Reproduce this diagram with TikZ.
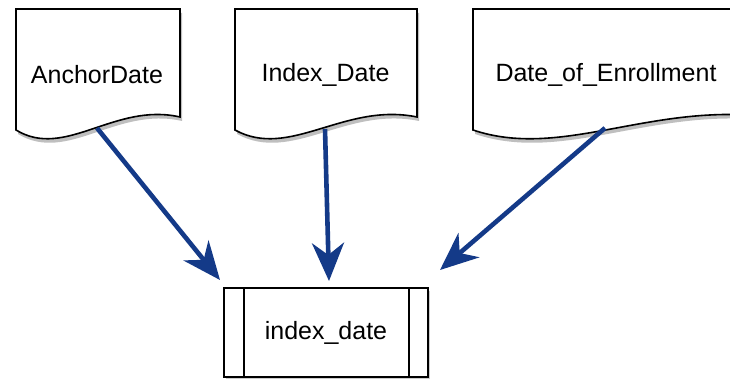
\documentclass[tikz,border=0pt]{standalone}
\usepackage{fontspec}
\setmainfont{Liberation Sans}
\usetikzlibrary{arrows.meta,shadows}
\definecolor{flowblue}{HTML}{143A88}
\tikzset{
  docshape/.style={draw=black, line width=1.6pt, fill=white,
    drop shadow={shadow xshift=2pt, shadow yshift=-4pt, opacity=0.25, fill=black}},
  label/.style={font=\fontsize{25}{29}\selectfont, text=black, inner sep=0pt},
  procbox/.style={draw=black, line width=1.6pt, fill=white, minimum width=204pt,
    minimum height=89pt, inner sep=0pt,
    drop shadow={shadow xshift=2pt, shadow yshift=-3pt, opacity=0.2, fill=black}},
  flow/.style={draw=flowblue, line width=4.6pt,
    -{Stealth[length=38pt, width=32pt, inset=12pt]}}
}
% document shape: left x, right x, top y, wavy bottom
\newcommand{\docpath}[3]{%
  \path[docshape] (#1,130) -- (#1,#3) -- (#2,#3) -- (#2,117)
    .. controls ({#2-0.4*(#2-#1)},102) and ({#1+0.3*(#2-#1)},160) .. (#1,130) -- cycle;}
\begin{document}
\begin{tikzpicture}[x=1pt, y=-1pt]
  \clip (0,0) rectangle (730,379);
  \fill[white] (0,0) rectangle (730,379);

  % source documents
  \docpath{16}{180}{9}
  \docpath{235}{417}{9}
  \docpath{473}{770}{9}
  \node[label] (anchor) at (97,75) {AnchorDate};
  \node[label] (idx) at (325.5,75) {Index\_Date};
  \node[label] (enroll) at (606,75) {Date\_of\_Enrollment};

  % predefined process
  \node[procbox] (proc) at (326,332.5) {};
  \draw[line width=1.6pt] ([xshift=21pt]proc.north west) -- ([xshift=21pt]proc.south west);
  \draw[line width=1.6pt] ([xshift=-20pt]proc.north east) -- ([xshift=-20pt]proc.south east);
  \node[label] (target) at (proc.center) {index\_date};

  % connector ends
  \coordinate (s1) at (97,128);
  \coordinate (s2) at (325,129);
  \coordinate (s3) at (605,128);
  \coordinate (e1) at (220,280);
  \coordinate (e2) at (329,281);
  \coordinate (e3) at (440,270);

  \draw[flow] (s1) -- (e1);
  \draw[flow] (s2) -- (e2);
  \draw[flow] (s3) -- (e3);
\end{tikzpicture}
\end{document}
